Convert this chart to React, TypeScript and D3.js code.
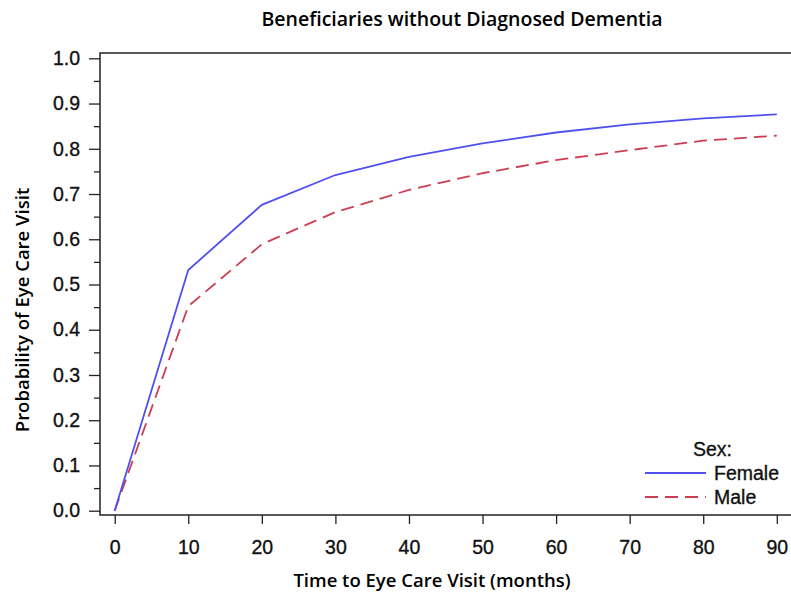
import { useRef, useEffect } from 'react';
import * as d3 from 'd3';

const months = [0, 10, 20, 30, 40, 50, 60, 70, 80, 90];
const female = [0, 0.532, 0.676, 0.742, 0.782, 0.812, 0.836, 0.854, 0.867, 0.876];
const male = [0, 0.452, 0.589, 0.66, 0.709, 0.746, 0.775, 0.797, 0.818, 0.829];
const yTicks = [0, 0.1, 0.2, 0.3, 0.4, 0.5, 0.6, 0.7, 0.8, 0.9, 1.0];
const yMinorTicks = [0.05, 0.15, 0.25, 0.35, 0.45, 0.55, 0.65, 0.75, 0.85, 0.95];
const xTicks = [0, 10, 20, 30, 40, 50, 60, 70, 80, 90];

export default function App() {
  const svgRef = useRef<SVGSVGElement>(null);

  useEffect(() => {
    const svg = d3.select(svgRef.current);
    svg.selectAll('*').remove();

    const width = 791;
    const height = 592;
    const frame = { left: 100, top: 53, right: 800, bottom: 515 };
    const tickFont = '"Liberation Sans", Arial, sans-serif';
    const labelFont = '"Open Sans", sans-serif';

    const x = d3.scaleLinear().domain([0, 90]).range([114.7, 776.8]);
    const y = d3.scaleLinear().domain([0, 1]).range([510.7, 58.3]);

    svg.attr('width', width).attr('height', height);

    // title
    svg.append('text')
      .attr('x', 462)
      .attr('y', 26)
      .attr('text-anchor', 'middle')
      .style('font-family', labelFont)
      .style('font-weight', 600)
      .style('font-size', '19.5px')
      .text('Beneficiaries without Diagnosed Dementia');

    // frame (right side cut off by the image edge)
    svg.append('rect')
      .attr('x', frame.left)
      .attr('y', frame.top)
      .attr('width', frame.right - frame.left)
      .attr('height', frame.bottom - frame.top)
      .attr('fill', 'none')
      .attr('stroke', '#222')
      .attr('stroke-width', 1.5);

    // y axis
    const yAxis = d3.axisLeft(y)
      .tickValues(yTicks)
      .tickFormat(d3.format('.1f'))
      .tickSize(11)
      .tickPadding(9);
    const gy = svg.append('g')
      .attr('transform', `translate(${frame.left},0)`)
      .call(yAxis);
    gy.select('.domain').remove();
    gy.selectAll('line').attr('stroke', '#222').attr('stroke-width', 1.3);
    gy.selectAll('text')
      .style('font-family', tickFont)
      .style('font-size', '19.5px')
      .attr('fill', '#111')
      .attr('stroke', '#111')
      .attr('stroke-width', 0.35);

    const gyMinor = svg.append('g')
      .attr('transform', `translate(${frame.left},0)`)
      .call(d3.axisLeft(y).tickValues(yMinorTicks).tickSize(6).tickFormat(() => ''));
    gyMinor.select('.domain').remove();
    gyMinor.selectAll('line').attr('stroke', '#222').attr('stroke-width', 1.3);

    // x axis
    const xAxis = d3.axisBottom(x)
      .tickValues(xTicks)
      .tickFormat(d3.format('d'))
      .tickSize(9)
      .tickPadding(16);
    const gx = svg.append('g')
      .attr('transform', `translate(0,${frame.bottom})`)
      .call(xAxis);
    gx.select('.domain').remove();
    gx.selectAll('line').attr('stroke', '#222').attr('stroke-width', 1.3);
    gx.selectAll('text')
      .style('font-family', tickFont)
      .style('font-size', '19.5px')
      .attr('fill', '#111')
      .attr('stroke', '#111')
      .attr('stroke-width', 0.35);

    // axis labels
    svg.append('text')
      .attr('x', 432)
      .attr('y', 587)
      .attr('text-anchor', 'middle')
      .style('font-family', labelFont)
      .style('font-weight', 600)
      .style('font-size', '18.5px')
      .text('Time to Eye Care Visit (months)');

    svg.append('text')
      .attr('transform', 'translate(29,310) rotate(-90)')
      .attr('text-anchor', 'middle')
      .style('font-family', labelFont)
      .style('font-weight', 600)
      .style('font-size', '18.5px')
      .text('Probability of Eye Care Visit');

    // lines
    const line = d3.line<number>()
      .x((_, i) => x(months[i]))
      .y(d => y(d));

    svg.append('path')
      .datum(male)
      .attr('d', line)
      .attr('fill', 'none')
      .attr('stroke', '#cc3f52')
      .attr('stroke-width', 1.8)
      .attr('stroke-dasharray', '13 7');

    svg.append('path')
      .datum(female)
      .attr('d', line)
      .attr('fill', 'none')
      .attr('stroke', '#5050f0')
      .attr('stroke-width', 1.8);

    // legend
    const lg = svg.append('g')
      .style('font-family', tickFont)
      .style('font-size', '19.5px');
    lg.append('text')
      .attr('x', 693)
      .attr('y', 456)
      .attr('fill', '#111')
      .attr('stroke', '#111')
      .attr('stroke-width', 0.35)
      .text('Sex:');
    const items = [
      { name: 'Female', color: '#5050f0', dash: null, yy: 473 },
      { name: 'Male', color: '#cc3f52', dash: '13 7', yy: 497 },
    ];
    items.forEach(it => {
      lg.append('line')
        .attr('x1', 645)
        .attr('x2', 706)
        .attr('y1', it.yy)
        .attr('y2', it.yy)
        .attr('stroke', it.color)
        .attr('stroke-width', 1.8)
        .attr('stroke-dasharray', it.dash);
      lg.append('text')
        .attr('x', 714)
        .attr('y', it.yy + 7)
        .attr('fill', '#111')
        .attr('stroke', '#111')
        .attr('stroke-width', 0.35)
        .text(it.name);
    });
  }, []);

  return (
    <div style={{ position: 'absolute', left: 0, top: 0, background: '#fff' }}>
      <svg ref={svgRef} style={{ display: 'block' }}></svg>
    </div>
  );
}
